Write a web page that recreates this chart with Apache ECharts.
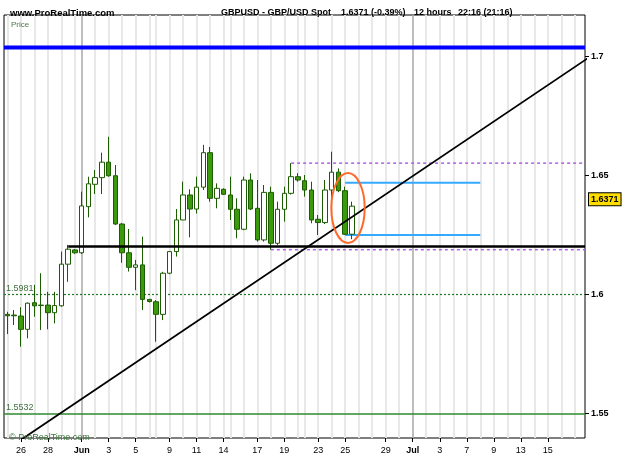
<!DOCTYPE html>
<html><head><meta charset="utf-8">
<script src="https://cdn.jsdelivr.net/npm/echarts@6/dist/echarts.min.js"></script>
<style>html,body{margin:0;padding:0;background:#fff}#c{width:625px;height:469px}</style>
</head><body><div id="c"></div>
<script>
// 12-hour slots (0 = 25 May first half)
const slots  = [0,1,2,3,4,5,6,7,8,9,10,11,12,13,14,15,16,17,18,19,20,21,22,23,24,25,26,27,28,29,30,31,32,33,34,35,36,37,38,39,40,41,42,43,44,45,46,47,48,49,50,51];
const opens  = [1.5916,1.5913,1.5909,1.5853,1.5965,1.5953,1.5955,1.5923,1.5952,1.6127,1.6187,1.6175,1.6369,1.6463,1.6491,1.6556,1.6499,1.6296,1.6175,1.6114,1.6124,1.5979,1.5969,1.5916,1.6089,1.6180,1.6313,1.6418,1.6359,1.6451,1.6596,1.6404,1.6442,1.6418,1.6358,1.6274,1.6481,1.6362,1.6229,1.6429,1.6215,1.6358,1.6425,1.6495,1.6478,1.6439,1.6316,1.6302,1.6439,1.6514,1.6436,1.6253];
const closes = [1.5910,1.5910,1.5853,1.5963,1.5952,1.5955,1.5923,1.5953,1.6127,1.6190,1.6175,1.6372,1.6465,1.6491,1.6556,1.6499,1.6296,1.6175,1.6114,1.6124,1.5979,1.5970,1.5916,1.6089,1.6180,1.6313,1.6418,1.6359,1.6451,1.6596,1.6404,1.6446,1.6421,1.6358,1.6274,1.6481,1.6359,1.6229,1.6429,1.6215,1.6358,1.6425,1.6495,1.6481,1.6439,1.6313,1.6302,1.6439,1.6514,1.6436,1.6253,1.6371];
const lows   = [1.5833,1.5871,1.5780,1.5815,1.5906,1.5850,1.5853,1.5878,1.5948,1.6053,1.6170,1.6170,1.6324,1.6422,1.6422,1.6495,1.6292,1.6133,1.6096,1.6018,1.5934,1.5966,1.5801,1.5892,1.6085,1.6159,1.6313,1.6240,1.6340,1.6439,1.6390,1.6362,1.6418,1.6313,1.6236,1.6270,1.6355,1.6222,1.6222,1.6188,1.6208,1.6306,1.6420,1.6474,1.6411,1.6299,1.6250,1.6296,1.6383,1.6430,1.6250,1.6232];
const highs  = [1.5927,1.5934,1.5946,1.5966,1.6040,1.6089,1.6011,1.6011,1.6180,1.6208,1.6191,1.6432,1.6495,1.6523,1.6596,1.6663,1.6544,1.6300,1.6275,1.6145,1.6243,1.5980,1.5976,1.6095,1.6182,1.6359,1.6474,1.6442,1.6495,1.6629,1.6620,1.6467,1.6446,1.6495,1.6404,1.6495,1.6509,1.6481,1.6460,1.6453,1.6390,1.6453,1.6552,1.6510,1.6502,1.6474,1.6334,1.6481,1.6600,1.6530,1.6453,1.6390];

const dayStartSlots   = [0,2,4,6,8,10,13,15,17,19,21,22,24,26,28,30,32,33,35,37,39,41,43,44,46,48,50,52,54,56,58,62,64,66,68,70,72,74,76,78,80,82,84];
const monthStartSlots = [11,60];
const tickSlots  = [2,6,11,15,19,24,28,32,37,41,46,50,56,60,64,68,72,76,80];
const tickLabels = ['26','28','Jun','3','5','9','11','14','17','19','23','25','29','Jul','3','7','9','13','15'];
const priceTicks = [1.55,1.6,1.65,1.7];

const blueLevel = 1.7038;
const supportLevel = 1.6201, supportFrom = 9;
const purpleHigh = 1.6552, purpleHighFrom = 42;
const purpleLow = 1.6188, purpleLowFrom = 39;
const greenDotted = 1.5981;
const greenSolid = 1.5532;
const cyanHigh = 1.6470, cyanLow = 1.6250, cyanFrom = 50, cyanTo = 70;
const trendLine = [[0,1.5350],[86,1.6995]];
const ellipseCenter = [50.42, 1.6363], ellipseRadius = [2.47, 0.0147];
const lastPrice = 1.6371;

const X_MIN = -0.5, X_MAX = 85.5;
const FONT = "'Liberation Sans',Arial,sans-serif";

const candleData = slots.map((s,i)=>[s, opens[i], closes[i], lows[i], highs[i]]);
const hLine = (y, from, to) => [[from, y],[to, y]];
const tStyle = (size, weight, color) => ({fontSize:size, fontWeight:weight, fontFamily:FONT, color:color});

const chart = echarts.init(document.getElementById('c'));
chart.setOption({
  animation:false,
  backgroundColor:'#fff',
  title:[
    {text:'www.ProRealTime.com', left:5, top:3, textStyle:tStyle(9.5,'bold','#000')},
    {text:'GBPUSD - GBP/USD Spot', left:216, top:3, textStyle:tStyle(9,'bold','#000')},
    {text:'1.6371 (-0.39%)', left:336, top:3, textStyle:tStyle(9,'bold','#000')},
    {text:'12 hours', left:409, top:3, textStyle:tStyle(9,'bold','#000')},
    {text:'22:16 (21:16)', left:453, top:3, textStyle:tStyle(9,'bold','#000')},
    {text:'Price', left:6, top:16, textStyle:tStyle(8,'normal','#4f7a4f')},
    {text:'© ProRealTime.com', left:4, top:428, textStyle:tStyle(9,'normal','#3d7a3d')}
  ],
  grid:{left:4, right:40, top:15, bottom:31, show:true, borderColor:'#000', borderWidth:1, backgroundColor:'#fff'},
  xAxis:{
    type:'value', min:X_MIN, max:X_MAX,
    axisLine:{show:false, onZero:false},
    splitLine:{show:false},
    axisTick:{show:true, customValues:tickSlots, length:4, lineStyle:{color:'#000'}},
    axisLabel:{
      customValues:tickSlots, margin:8, fontSize:9, fontFamily:FONT, color:'#000',
      formatter:(v)=>{ const i = tickSlots.indexOf(Math.round(v)); if(i<0) return ''; const t = tickLabels[i]; return /^[A-Z]/.test(t) ? '{b|'+t+'}' : t; },
      rich:{b:{fontWeight:'bold', fontSize:9, fontFamily:FONT, color:'#000'}}
    }
  },
  yAxis:{
    type:'value', position:'right', min:1.5396, max:1.7175,
    axisLine:{show:false, onZero:false},
    splitLine:{show:false},
    axisTick:{show:true, customValues:priceTicks, length:4, lineStyle:{color:'#000'}},
    axisLabel:{customValues:priceTicks, margin:6, fontSize:9, fontWeight:'bold', fontFamily:FONT, color:'#000',
      formatter:(v)=>String(+(+v).toFixed(2))}
  },
  series:[
    {type:'line', data:[], z:1, silent:true,
     markLine:{z:1, silent:true, symbol:['none','none'], label:{show:false}, animation:false,
       lineStyle:{color:'#e8e8e8', width:2, type:'solid'},
       data:dayStartSlots.map(s=>({xAxis:s}))}},
    {type:'line', data:[], z:1, silent:true,
     markLine:{z:1, silent:true, symbol:['none','none'], label:{show:false}, animation:false,
       lineStyle:{color:'#a8a8a8', width:1.5, type:'solid'},
       data:monthStartSlots.map(s=>({xAxis:s}))}},
    {type:'line', data:[], z:2, silent:true,
     markLine:{z:2, silent:true, symbol:['none','none'], animation:false,
       data:[
         {yAxis:greenDotted, lineStyle:{color:'#1f7a1f', width:1.2, type:[2,2]},
          label:{show:true, position:'insideStartTop', distance:[2,1], formatter:'1.5981', fontSize:9, fontFamily:FONT, color:'#3f6f3f'}},
         {yAxis:greenSolid, lineStyle:{color:'#2f8a2f', width:1.5, type:'solid'},
          label:{show:true, position:'insideStartTop', distance:[2,1], formatter:'1.5532', fontSize:9, fontFamily:FONT, color:'#3f6f3f'}}
       ]}},
    {type:'line', data:[], z:8, silent:true,
     markLine:{z:8, silent:true, symbol:['none','none'], animation:false,
       data:[
         {yAxis:lastPrice, lineStyle:{color:'rgba(0,0,0,0)', width:1},
          label:{show:true, position:'end', distance:4, formatter:'1.6371', fontSize:9, fontWeight:'bold', fontFamily:FONT, color:'#000',
            backgroundColor:'#ffdd00', borderColor:'#000', borderWidth:1, padding:[2,2,1,2]}}
       ]}},
    {type:'line', data:hLine(blueLevel, X_MIN, X_MAX), showSymbol:false, silent:true, z:3, lineStyle:{color:'#0000ff', width:4}},
    {type:'line', data:hLine(purpleHigh, purpleHighFrom, X_MAX), showSymbol:false, silent:true, z:3, lineStyle:{color:'#b060e0', width:1.5, type:[3,3]}},
    {type:'line', data:hLine(purpleLow, purpleLowFrom, X_MAX), showSymbol:false, silent:true, z:3, lineStyle:{color:'#b060e0', width:1.5, type:[3,3]}},
    {type:'line', data:hLine(cyanHigh, cyanFrom, cyanTo), showSymbol:false, silent:true, z:3, lineStyle:{color:'#33aaff', width:2}},
    {type:'line', data:hLine(cyanLow, cyanFrom, cyanTo), showSymbol:false, silent:true, z:3, lineStyle:{color:'#33aaff', width:2}},
    {type:'candlestick', data:candleData, encode:{x:0, y:[1,2,3,4]}, barWidth:5, z:4, silent:true,
     itemStyle:{color:'#ffffff', color0:'#3a9a0c', borderColor:'#1c5c00', borderColor0:'#1c5c00', borderColorDoji:'#1c5c00', borderWidth:1}},
    {type:'line', data:hLine(supportLevel, supportFrom, X_MAX), showSymbol:false, silent:true, z:5, lineStyle:{color:'#000', width:2.5}},
    {type:'line', data:trendLine, showSymbol:false, silent:true, z:5, clip:true, lineStyle:{color:'#000', width:1.8}},
    {type:'custom', data:[ellipseCenter], z:6, silent:true, clip:false,
     renderItem:(params, api)=>{
       const c = api.coord([api.value(0), api.value(1)]);
       const sz = api.size(ellipseRadius, [api.value(0), api.value(1)]);
       return {type:'ellipse', shape:{cx:c[0], cy:c[1], rx:sz[0], ry:sz[1]}, style:{fill:'none', stroke:'#ff6a2a', lineWidth:2}};
     }}
  ]
});
</script></body></html>
